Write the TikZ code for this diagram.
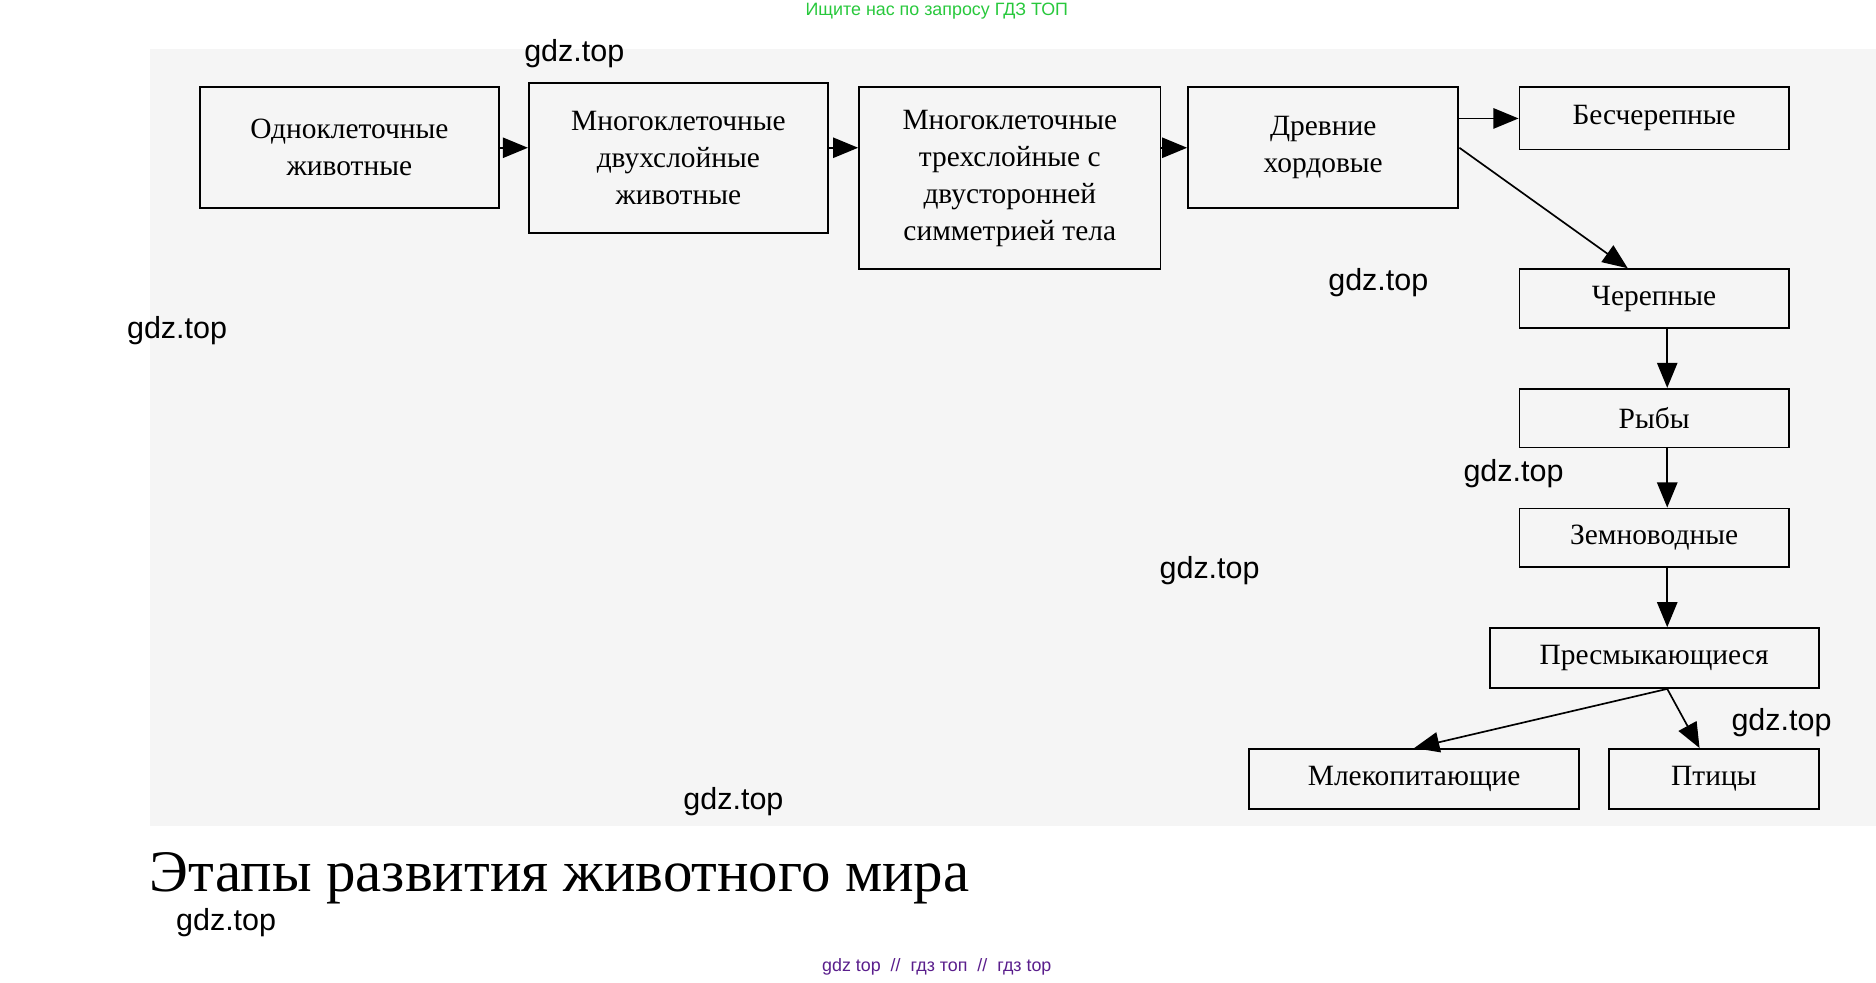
\documentclass[tikz,border=0pt]{standalone}
\usepackage{fontspec}
\setmainfont{Liberation Serif}
\newfontfamily\marksans{Liberation Sans}
\usetikzlibrary{arrows.meta}
\definecolor{bggray}{RGB}{245, 245, 245}
\definecolor{topgreen}{RGB}{40, 200, 60}
\definecolor{botpurple}{RGB}{90, 30, 140}
\tikzset{%
    stagebox/.style={draw, line width=0.9pt, align=center, inner sep=0pt,
        font=\fontsize{14}{17.6}\selectfont},
    evo/.style={-{Triangle[length=0.42cm, width=0.34cm]}, line width=0.8pt},
    wmark/.style={font=\marksans\fontsize{14.5}{16}\selectfont}
}
\begin{document}
\begin{tikzpicture}[x=0.02cm, y=-0.02cm]

    % Frame and background
    \useasboundingbox (0, 0) rectangle (1568, 821);
    \fill[bggray] (125, 41) rectangle (1568, 690);

    % Main chain
    \node[stagebox, minimum width=5cm, minimum height=2.02cm] (uni) at (292, 123.5)
        {Одноклеточные\\животные};
    \node[stagebox, minimum width=5cm, minimum height=2.52cm] (twolayer) at (567, 132)
        {Многоклеточные\\двухслойные\\животные};
    \node[stagebox, minimum width=5.04cm, minimum height=3.04cm] (threelayer) at (844, 149)
        {Многоклеточные\\трехслойные с\\двусторонней\\симметрией тела};
    \node[stagebox, minimum width=4.52cm, minimum height=2.02cm] (chordata) at (1106, 123.5)
        {Древние\\хордовые};

    % Chordate branches
    \node[stagebox, minimum width=4.5cm, minimum height=1.04cm] (acrania) at (1382.5, 99)
        {Бесчерепные};
    \node[stagebox, minimum width=4.5cm, minimum height=0.98cm] (cranial) at (1382.5, 249.5)
        {Черепные};
    \node[stagebox, minimum width=4.5cm, minimum height=0.98cm] (fish) at (1382.5, 349.5)
        {Рыбы};
    \node[stagebox, minimum width=4.5cm, minimum height=0.98cm] (amphib) at (1382.5, 449.5)
        {Земноводные};
    \node[stagebox, minimum width=5.5cm, minimum height=1cm] (reptile) at (1382.5, 550)
        {Пресмыкающиеся};
    \node[stagebox, minimum width=5.52cm, minimum height=1cm] (mammal) at (1182, 651)
        {Млекопитающие};
    \node[stagebox, minimum width=3.5cm, minimum height=1cm] (bird) at (1432.5, 651)
        {Птицы};

    % Arrows
    \draw[evo] (uni.east) -- (uni.east -| twolayer.west);
    \draw[evo] (twolayer.east |- uni.east) -- (uni.east -| threelayer.west);
    \draw[evo] (threelayer.east |- uni.east) -- (uni.east -| chordata.west);
    \draw[evo] (chordata.east |- acrania.west) -- (acrania.west);
    \draw[evo] (chordata.east) -- ([xshift=-0.44cm]cranial.north);
    \draw[evo] ([xshift=0.22cm]cranial.south) -- ([xshift=0.22cm]fish.north);
    \draw[evo] ([xshift=0.22cm]fish.south) -- ([xshift=0.22cm]amphib.north);
    \draw[evo] ([xshift=0.22cm]amphib.south) -- ([xshift=0.22cm]reptile.north);
    \draw[evo] ([xshift=0.22cm]reptile.south) -- (mammal.north);
    \draw[evo] ([xshift=0.22cm]reptile.south) -- ([xshift=-0.24cm]bird.north);

    % Title
    \node[anchor=base west, inner sep=0pt, font=\fontsize{28}{32}\selectfont] (title)
        at (125, 745) {Этапы развития животного мира};

    % Watermarks
    \node[font=\marksans\fontsize{8.5}{10}\selectfont, text=topgreen] (toptext) at (783, 9)
        {Ищите нас по запросу ГДЗ ТОП};
    \node[font=\marksans\fontsize{8.5}{10}\selectfont, text=botpurple] (bottext) at (783, 808)
        {gdz top \ // \ гдз топ \ // \ гдз top};
    \foreach \px/\py in {480/45, 1152/236, 148/276, 1265/396, 1011/477,
                         1489/604, 613/670, 189/771}{%
        \node[wmark] at (\px, \py) {gdz.top};
    };

\end{tikzpicture}
\end{document}
